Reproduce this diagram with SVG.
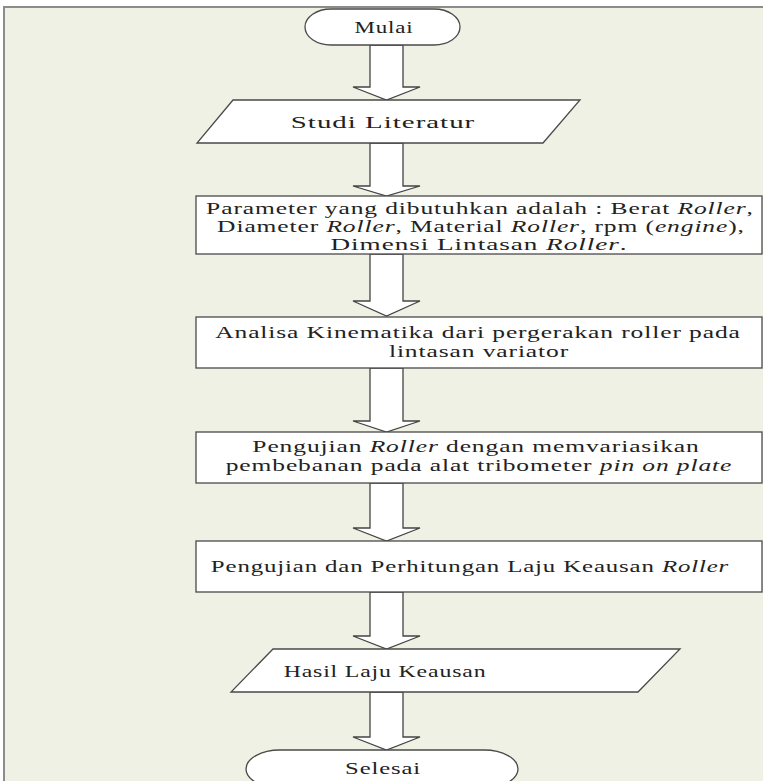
<svg xmlns="http://www.w3.org/2000/svg" width="763" height="781" viewBox="0 0 763 781">
<defs>
<style>
.frame{fill:#eef1e3;stroke:#8c8c8c;stroke-width:2}
.shape{fill:#ffffff;stroke:#4a4a4a;stroke-width:1.3}
.arrow{fill:#ffffff;stroke:#444444;stroke-width:1.3;stroke-linejoin:miter}
.t{font-family:"Liberation Serif","Times New Roman",serif;font-size:17px;letter-spacing:0.6px;fill:#222222;text-anchor:middle}
.i{font-style:italic}
</style>
</defs>
<rect x="0" y="0" width="763" height="781" fill="#ffffff"/>
<rect class="frame" x="4" y="7" width="800" height="800"/>

<g id="connectors">
<path class="arrow" d="M370,45 L403,45 L403,87 L420,87 L386.5,100 L353,87 L370,87 Z"/>
<path class="arrow" d="M370,143 L403,143 L403,186 L420,186 L386.5,196 L353,186 L370,186 Z"/>
<path class="arrow" d="M370,254 L403,254 L403,301 L420,301 L386.5,316 L353,301 L370,301 Z"/>
<path class="arrow" d="M370,368 L403,368 L403,421 L420,421 L386.5,432 L353,421 L370,421 Z"/>
<path class="arrow" d="M370,483 L403,483 L403,528 L420,528 L386.5,541 L353,528 L370,528 Z"/>
<path class="arrow" d="M370,592 L403,592 L403,636 L420,636 L386.5,649 L353,636 L370,636 Z"/>
<path class="arrow" d="M370,692 L403,692 L403,737 L420,737 L386.5,750 L353,737 L370,737 Z"/>
</g>

<g id="mulai">
<rect class="shape" x="305" y="9" width="155" height="36" rx="26" ry="18"/>
<text class="t" transform="translate(384 33) scale(1.35 1)">Mulai</text>
</g>

<g id="studi">
<polygon class="shape" points="233,100 580,100 543,143 197,143"/>
<text class="t" transform="translate(383 128) scale(1.7 1)">Studi Literatur</text>
</g>

<g id="parameter">
<rect class="shape" x="196" y="196" width="566" height="58"/>
<text class="t" transform="translate(480 214) scale(1.5 1)">Parameter yang dibutuhkan adalah : Berat <tspan class="i">Roller</tspan>,</text>
<text class="t" transform="translate(481 232) scale(1.5 1)">Diameter <tspan class="i">Roller</tspan>, Material <tspan class="i">Roller</tspan>, rpm (<tspan class="i">engine</tspan>),</text>
<text class="t" transform="translate(479 250) scale(1.6 1)">Dimensi Lintasan <tspan class="i">Roller</tspan>.</text>
</g>

<g id="analisa">
<rect class="shape" x="196" y="317" width="566" height="51"/>
<text class="t" transform="translate(478 338) scale(1.5 1)">Analisa Kinematika dari pergerakan roller pada</text>
<text class="t" transform="translate(479 357) scale(1.5 1)">lintasan variator</text>
</g>

<g id="pengujian-roller">
<rect class="shape" x="196" y="432" width="566" height="51"/>
<text class="t" transform="translate(476 452) scale(1.5 1)">Pengujian <tspan class="i">Roller</tspan> dengan memvariasikan</text>
<text class="t" transform="translate(479 471) scale(1.5 1)">pembebanan pada alat tribometer <tspan class="i">pin on plate</tspan></text>
</g>

<g id="perhitungan">
<rect class="shape" x="196" y="541" width="566" height="51"/>
<text class="t" transform="translate(470 572) scale(1.46 1)">Pengujian dan Perhitungan Laju Keausan <tspan class="i">Roller</tspan></text>
</g>

<g id="hasil">
<polygon class="shape" points="273,649 680,649 638,692 231,692"/>
<text class="t" transform="translate(385 677) scale(1.4 1)">Hasil Laju Keausan</text>
</g>

<g id="selesai">
<rect class="shape" x="246" y="750" width="272" height="38" rx="34" ry="19"/>
<text class="t" transform="translate(383 774) scale(1.45 1)">Selesai</text>
</g>
</svg>
